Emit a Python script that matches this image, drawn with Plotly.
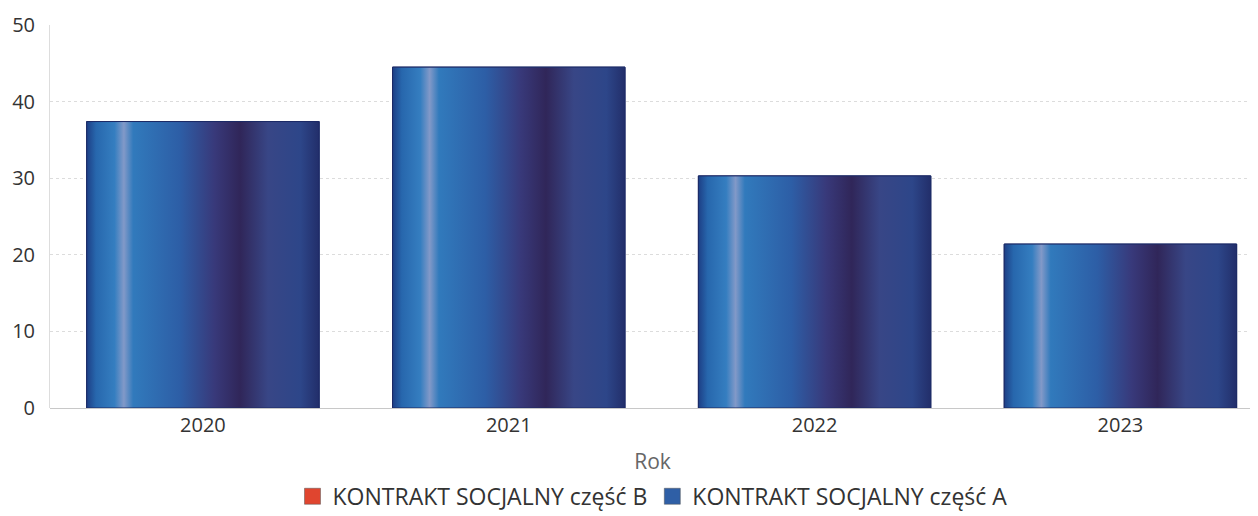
import plotly.graph_objects as go

# Data
years = ["2020", "2021", "2022", "2023"]
part_a = [37.4, 44.5, 30.3, 21.4]
part_b = [0, 0, 0, 0]
series_names = ["KONTRAKT SOCJALNY część B", "KONTRAKT SOCJALNY część A"]
series_colors = ["#e0452f", "#2f5fa6"]

bar_width = 0.76
xpos = list(range(len(years)))

# horizontal shading of the bars (light streak on the left, dark purple on the right)
bar_shading = [
    [0.0, "#1d3f86"], [0.04, "#2767ad"], [0.12, "#357ec0"], [0.16, "#8299c8"],
    [0.2, "#317abc"], [0.4, "#2d5ea6"], [0.55, "#38397a"], [0.66, "#302659"],
    [0.78, "#384686"], [0.92, "#2d4689"], [1.0, "#222e6a"],
]

fig = go.Figure()

fig.add_trace(go.Bar(
    x=xpos, y=part_b, width=bar_width, name=series_names[0],
    marker=dict(color=series_colors[0], line=dict(width=0)), showlegend=False,
))
fig.add_trace(go.Bar(
    x=xpos, y=part_a, width=bar_width, name=series_names[1],
    marker=dict(color=series_colors[1], line=dict(color="#1c2a66", width=1)),
    showlegend=False,
))

# gradient overlay for each bar, built from the same values
for x, v in zip(xpos, part_a):
    x0, x1 = x - bar_width / 2, x + bar_width / 2
    fig.add_trace(go.Scatter(
        x=[x0, x1, x1, x0, x0], y=[0, 0, v, v, 0],
        mode="lines", fill="toself",
        line=dict(color="#1c2a66", width=1),
        fillgradient=dict(type="horizontal", colorscale=bar_shading),
        showlegend=False, hoverinfo="skip",
    ))

# legend entries (bigger square swatches)
for name, color in zip(series_names, series_colors):
    fig.add_trace(go.Scatter(
        x=[None], y=[None], mode="markers", name=name,
        marker=dict(symbol="square", size=16, color=color,
                    line=dict(color="#555", width=0.5)),
    ))

# page body has an 8px margin, so margins are shifted to compensate
fig.update_layout(
    width=1258, height=516,
    margin=dict(l=42, r=11, t=17, b=116, autoexpand=False),
    plot_bgcolor="white", paper_bgcolor="white",
    font=dict(family="Open Sans", size=20, color="#333"),
    barmode="overlay",
    showlegend=True,
    legend=dict(orientation="h", x=0.5, xanchor="center",
                yref="container", y=0.012, yanchor="bottom",
                font=dict(size=23, color="#333"), traceorder="normal",
                itemwidth=30),
)

fig.update_xaxes(
    range=[-0.5, 3.44], tickvals=xpos, ticktext=years,
    title=dict(text="Rok", font=dict(size=21, color="#666"), standoff=24),
    showgrid=False, zeroline=False, automargin=False,
    showline=False, ticks="", ticklabelstandoff=3,
)
fig.update_yaxes(
    range=[0, 50], dtick=10, automargin=False,
    showgrid=True, gridcolor="#dcdcdc", griddash="dot", gridwidth=1,
    zeroline=True, zerolinecolor="#c8c8c8", zerolinewidth=1,
    showline=True, linecolor="#dddddd", linewidth=1,
    ticks="", ticklabelstandoff=10,
)

fig.write_html("out.html")
